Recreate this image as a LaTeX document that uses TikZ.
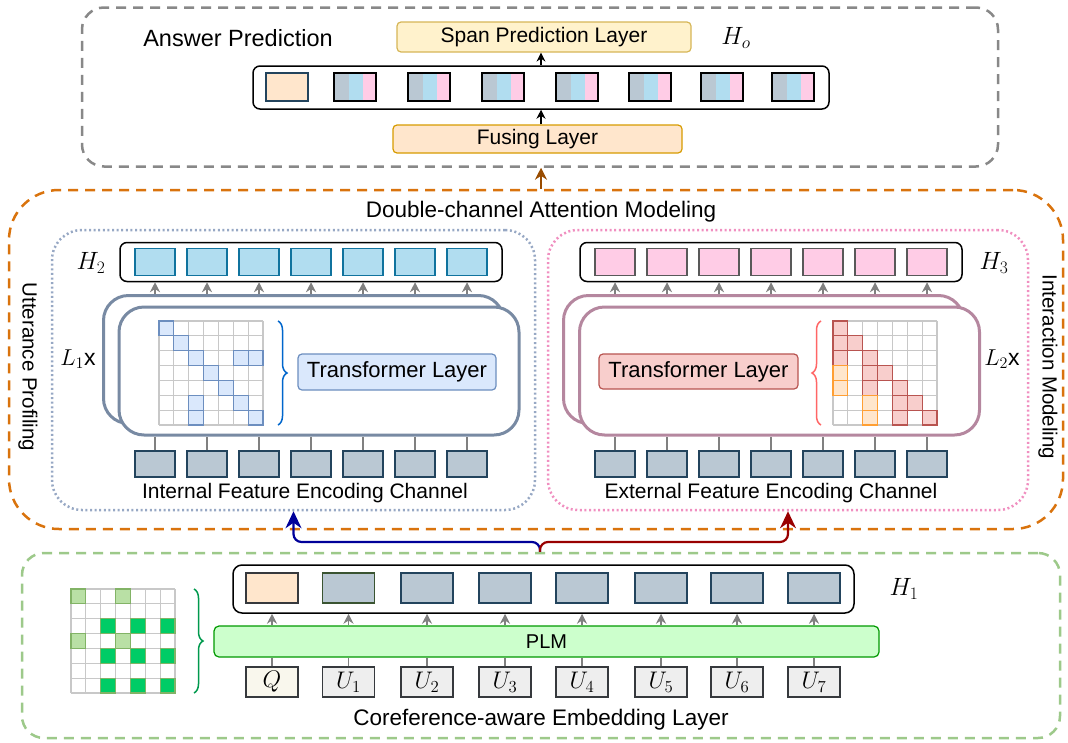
\RequirePackage{fix-cm}
\documentclass[tikz,border=0pt]{standalone}
\usepackage{fontspec}
\setmainfont{Liberation Sans}
\usetikzlibrary{arrows.meta,decorations.pathreplacing}

\definecolor{grpgray}{HTML}{888888}
\definecolor{grporange}{HTML}{D9730D}
\definecolor{grpgreen}{HTML}{9DC98A}
\definecolor{chanblue}{HTML}{97A8C4}
\definecolor{chanpink}{HTML}{F08FC0}
\definecolor{arrgray}{HTML}{808080}
\definecolor{peach}{HTML}{FFE6CC}
\definecolor{peachline}{HTML}{D79B00}
\definecolor{spanfill}{HTML}{FFF2CC}
\definecolor{spanline}{HTML}{D6B656}
\definecolor{vecgray}{HTML}{BAC8D3}
\definecolor{vecnavy}{HTML}{23445D}
\definecolor{vecolive}{HTML}{3A5431}
\definecolor{vecblue}{HTML}{B1DDF0}
\definecolor{vecblueline}{HTML}{10739E}
\definecolor{vecpink}{HTML}{FFCCE6}
\definecolor{lightblue}{HTML}{DAE8FC}
\definecolor{blueline}{HTML}{6C8EBF}
\definecolor{lightred}{HTML}{F8CECC}
\definecolor{redline}{HTML}{B85450}
\definecolor{orangeline}{HTML}{FF9F33}
\definecolor{stackblue}{HTML}{788AA3}
\definecolor{stackmauve}{HTML}{B5879F}
\definecolor{plmfill}{HTML}{CCFFCC}
\definecolor{plmline}{HTML}{009900}
\definecolor{tokline}{HTML}{36393D}
\definecolor{qfill}{HTML}{F9F7ED}
\definecolor{ufill}{HTML}{EEEEEE}
\definecolor{gridc}{HTML}{C8C8C8}
\definecolor{softgreen}{HTML}{B9E0A5}
\definecolor{softgreenline}{HTML}{82B366}
\definecolor{emerald}{HTML}{00CC66}
\definecolor{bracegreen}{HTML}{00994D}
\definecolor{braceblue}{HTML}{0066CC}
\definecolor{bracered}{HTML}{FF6666}
\definecolor{brownarr}{HTML}{994C00}
\definecolor{darkblue}{HTML}{000099}
\definecolor{darkred}{HTML}{990000}

\tikzset{
    txt/.style={font=\fontsize{21}{25}\selectfont, inner sep=0pt},
    ttl/.style={font=\fontsize{22.5}{26}\selectfont, inner sep=0pt},
    mth/.style={font=\fontsize{25}{29}\selectfont, inner sep=0pt},
    grp/.style={draw, rounded corners=22pt, line width=2.5pt, dash pattern=on 10pt off 7pt, inner sep=0pt},
    chan/.style={draw, rounded corners=30pt, line width=2.5pt, dash pattern=on 2pt off 2.6pt, inner sep=0pt},
    layer/.style={draw, rounded corners=4pt, line width=1.2pt, inner sep=0pt, font=\fontsize{21}{25}\selectfont},
    rowbox/.style={draw=black, rounded corners=7pt, line width=1.5pt, inner sep=0pt},
    vec/.style={draw, line width=1.2pt, inner sep=0pt, minimum width=40pt, minimum height=27pt},
    tok/.style={draw=tokline, line width=1.2pt, inner sep=0pt, minimum width=52pt, minimum height=30pt, font=\fontsize{24}{28}\selectfont},
    stack/.style={draw=#1, fill=white, rounded corners=25pt, line width=3pt, inner sep=0pt, minimum width=400pt, minimum height=128pt},
    up/.style={draw=arrgray, line width=1.2pt, -{Stealth[width=10pt,length=10pt]}},
    link/.style={draw=arrgray, line width=1.2pt},
    blackup/.style={draw=black, line width=1.2pt, -{Stealth[width=9pt,length=9pt]}},
    cellgrid/.style={draw=gridc, line width=1.2pt},
    hl/.style={fill=#1, line width=1.2pt},
    curly/.style={decorate, decoration={brace, amplitude=9pt}, line width=1.5pt}
}

\begin{document}
\begin{tikzpicture}[x=1pt,y=-1pt]
        \useasboundingbox (0,0) rectangle (1068,742);

        % groups
        \node[grp, draw=grpgray, minimum width=916pt, minimum height=159pt] (pred) at (540,87) {};
        \node[grp, draw=grporange, rounded corners=50pt, minimum width=1054pt, minimum height=339pt] (dca) at (536,359.5) {};
        \node[grp, draw=grpgreen, minimum width=1038pt, minimum height=185pt] (emb) at (541,645.5) {};
        \node[chan, draw=chanblue, minimum width=483pt, minimum height=280pt] (lchan) at (293.5,370) {};
        \node[chan, draw=chanpink, minimum width=480pt, minimum height=280pt] (rchan) at (788,370) {};

        % answer prediction
        \node[ttl, font=\fontsize{23.5}{27}\selectfont] (predtitle) at (238,38) {Answer Prediction};
        \node[layer, fill=spanfill, draw=spanline, minimum width=294pt, minimum height=30pt] (span) at (544,37) {Span Prediction Layer};
        \node[mth] (holabel) at (736,38) {$H_o$};
        \node[rowbox, minimum width=576pt, minimum height=43pt] (horow) at (541,87.5) {};
        \node[vec, fill=peach, draw=vecnavy, minimum width=42pt, minimum height=28pt] (ho1) at (287,87) {};
        \foreach \x [count=\i from 2] in {355,429,503,577,650,722,793} {
            \fill[vecgray] (\x-21,73) rectangle (\x-6.5,101);
            \fill[vecblue] (\x-6.5,73) rectangle (\x+8,101);
            \fill[vecpink] (\x+8,73) rectangle (\x+21,101);
            \node[vec, draw=black, minimum width=42pt, minimum height=28pt] (ho\i) at (\x,87) {};
        }
        \node[layer, fill=peach, draw=peachline, minimum width=289pt, minimum height=28pt] (fuse) at (537.5,139) {Fusing Layer};
        \draw[blackup] (fuse.north -| horow.center) -- (horow.south);
        \draw[blackup] (horow.north) -- (span.south -| horow.center);
        \draw[draw=brownarr, line width=1.5pt, -{Stealth[width=12pt,length=12pt]}] (dca.north -| horow.center) -- (pred.south -| horow.center);

        % double-channel attention modeling
        \node[ttl] (dcatitle) at (541,212) {Double-channel Attention Modeling};
        \node[txt, font=\fontsize{20.5}{24}\selectfont, rotate=-90] (uprof) at (28,367) {Utterance Profiling};
        \node[txt, font=\fontsize{20.5}{24}\selectfont, rotate=-90] (imod) at (1048,367) {Interaction Modeling};

        \node[rowbox, minimum width=382pt, minimum height=39pt] (h2row) at (311,262) {};
        \node[mth] (h2label) at (91,263) {$H_2$};
        \node[rowbox, minimum width=382pt, minimum height=39pt] (h3row) at (771,262) {};
        \node[mth] (h3label) at (994,263) {$H_3$};

        \node[stack=stackblue] (lback) at (303.5,359.5) {};
        \node[stack=stackblue] (lfront) at (319,371) {};
        \node[stack=stackmauve] (rback) at (763.5,359.5) {};
        \node[stack=stackmauve] (rfront) at (779.5,371) {};

        \foreach \x [count=\i] in {155,207,259,311,363,415,467} {
            \node[vec, fill=vecblue, draw=vecblueline] (h2c\i) at (\x,262) {};
            \draw[up] (h2c\i |- lback.north) -- (h2c\i |- h2row.south);
            \node[vec, fill=vecgray, draw=vecnavy, minimum height=26pt] (lin\i) at (\x,464) {};
            \draw[link] (lin\i.north) -- (lin\i |- lfront.south);
        }
        \foreach \x [count=\i] in {615,667,719,771,823,875,927} {
            \node[vec, fill=vecpink, draw=gray!70!black] (h3c\i) at (\x,262) {};
            \draw[up] (h3c\i |- rback.north) -- (h3c\i |- h3row.south);
            \node[vec, fill=vecgray, draw=vecnavy, minimum height=26pt] (rin\i) at (\x,464) {};
            \draw[link] (rin\i.north) -- (rin\i |- rfront.south);
        }

        \node[txt, font=\fontsize{23}{27}\selectfont] (l1label) at (78,359) {$L_1$x};
        \node[txt, font=\fontsize{23}{27}\selectfont] (l2label) at (1002,359) {$L_2$x};
        \node[layer, fill=lightblue, draw=blueline, minimum width=198pt, minimum height=36pt, font=\fontsize{22}{26}\selectfont] (ltrans) at (397,372) {Transformer Layer};
        \node[layer, fill=lightred, draw=redline, minimum width=199pt, minimum height=35pt, font=\fontsize{22}{26}\selectfont] (rtrans) at (698.5,371.5) {Transformer Layer};

        \begin{scope}[shift={(159,321)}]
            \foreach \k in {0,...,7} {
                \draw[cellgrid] (\k*14.86,0) -- (\k*14.86,104);
                \draw[cellgrid] (0,\k*14.86) -- (104,\k*14.86);
            }
            \foreach \c/\r in {0/0,1/1,2/2,5/2,6/2,3/3,4/4,2/5,5/5,2/6,6/6}
                \filldraw[hl=lightblue, draw=blueline] (\c*14.86,\r*14.86) rectangle ++(14.86,14.86);
        \end{scope}
        \draw[curly, draw=braceblue] (278,321) -- (278,425);

        \begin{scope}[shift={(833,321)}]
            \foreach \k in {0,...,7} {
                \draw[cellgrid] (\k*14.86,0) -- (\k*14.86,104);
                \draw[cellgrid] (0,\k*14.86) -- (104,\k*14.86);
            }
            \foreach \c/\r in {0/0,0/1,1/1,0/2,2/2,2/3,3/3,2/4,4/4,4/5,5/5,4/6,6/6}
                \filldraw[hl=lightred, draw=redline] (\c*14.86,\r*14.86) rectangle ++(14.86,14.86);
            \foreach \c/\r in {0/3,0/4,2/5,2/6}
                \filldraw[hl=peach, draw=orangeline] (\c*14.86,\r*14.86) rectangle ++(14.86,14.86);
        \end{scope}
        \draw[curly, draw=bracered] (821,425) -- (821,321);

        \node[txt] (intlabel) at (305,493) {Internal Feature Encoding Channel};
        \node[txt] (extlabel) at (771,493) {External Feature Encoding Channel};

        % coreference-aware embedding layer
        \node[rowbox, rounded corners=9pt, minimum width=621pt, minimum height=48pt] (h1row) at (543.5,589) {};
        \node[mth] (h1label) at (904,589) {$H_1$};
        \node[layer, fill=plmfill, draw=plmline, rounded corners=5pt, minimum width=665pt, minimum height=31pt, font=\fontsize{20}{24}\selectfont] (plm) at (546.5,641.5) {PLM};
        \node[vec, fill=peach, draw=tokline, minimum width=52pt, minimum height=30pt] (h1c1) at (272,588) {};
        \node[vec, fill=vecgray, draw=vecolive, minimum width=52pt, minimum height=30pt] (h1c2) at (348.5,588) {};
        \foreach \x [count=\i from 3] in {427,505,582,661,737,814}
            \node[vec, fill=vecgray, draw=vecnavy, minimum width=52pt, minimum height=30pt] (h1c\i) at (\x,588) {};
        \node[tok, fill=qfill] (tok1) at (272,682) {$Q$};
        \foreach \x [count=\i from 2] in {348.5,427,505,582,661,737,814} {
            \pgfmathtruncatemacro{\u}{\i-1}
            \node[tok, fill=ufill] (tok\i) at (\x,682) {$U_{\u}$};
        }
        \foreach \i in {1,...,8} {
            \draw[up] (h1c\i |- plm.north) -- (h1c\i |- h1row.south);
            \draw[link] (tok\i.north) -- (tok\i |- plm.south);
        }
        \node[ttl] (embtitle) at (541,720) {Coreference-aware Embedding Layer};

        \begin{scope}[shift={(71,589)}]
            \foreach \k in {0,...,7} {
                \draw[cellgrid] (\k*14.86,0) -- (\k*14.86,104);
                \draw[cellgrid] (0,\k*14.86) -- (104,\k*14.86);
            }
            \foreach \c/\r in {0/0,3/0,0/3,3/3}
                \filldraw[hl=softgreen, draw=softgreenline] (\c*14.86,\r*14.86) rectangle ++(14.86,14.86);
            \foreach \c/\r in {2/2,4/2,6/2,2/4,4/4,6/4,2/6,4/6,6/6}
                \filldraw[hl=emerald, draw=softgreenline] (\c*14.86,\r*14.86) rectangle ++(14.86,14.86);
        \end{scope}
        \draw[curly, draw=bracegreen] (194,589) -- (194,693);

        % fork into both channels
        \coordinate (fork) at (540,542);
        \draw[draw=darkblue, line width=2.2pt, rounded corners=8pt, -{Stealth[width=16pt,length=17pt]}] (fork |- emb.north) -- (fork) -| (lchan.south);
        \draw[draw=darkred, line width=2.2pt, rounded corners=8pt, -{Stealth[width=16pt,length=17pt]}] (fork |- emb.north) -- (fork) -| (rchan.south);
    \end{tikzpicture}
\end{document}
